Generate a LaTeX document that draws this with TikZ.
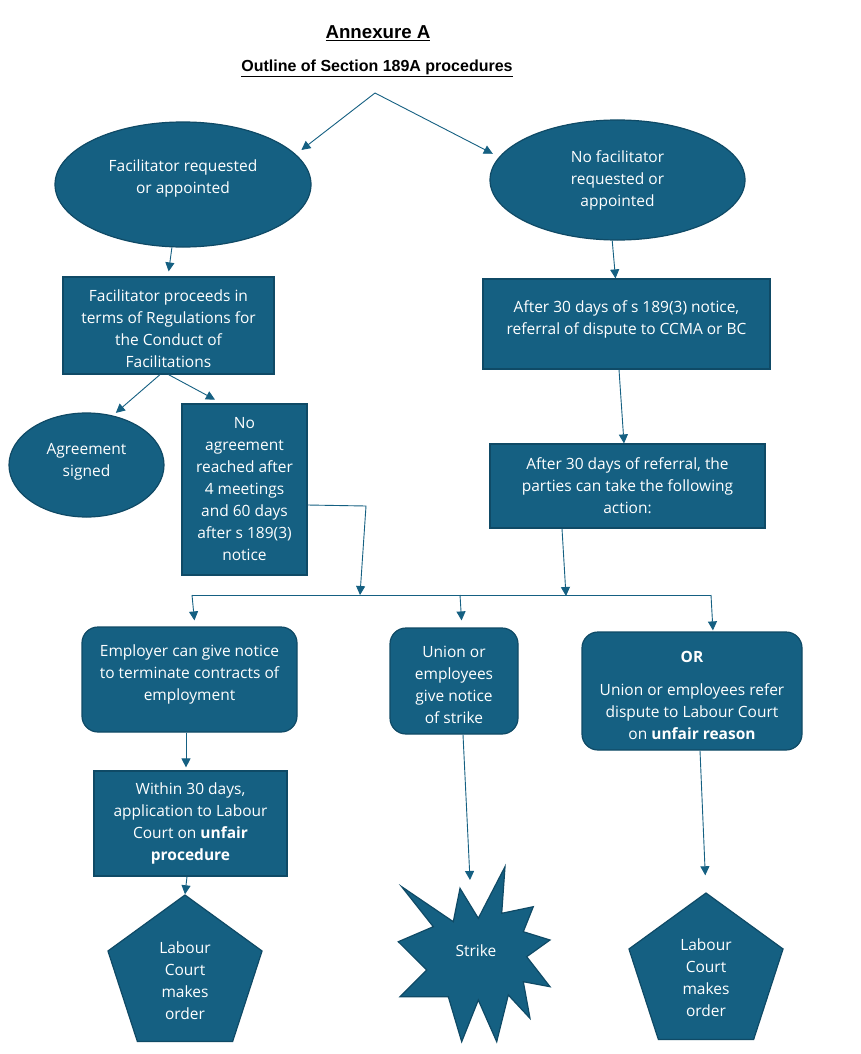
\documentclass[tikz,border=0pt]{standalone}
\usepackage{fontspec}
\setmainfont{Open Sans}
\newfontfamily\titlefont{Liberation Sans}
\usetikzlibrary{arrows.meta}
\usetikzlibrary{shapes.geometric}
\definecolor{teal1}{HTML}{156082}
\definecolor{tealedge}{HTML}{0F4A66}
\newcommand{\boxfont}{\fontsize{15.5}{22}\selectfont}
\newcommand{\toppad}[1]{\rule{0pt}{#1}}
\tikzset{
 boxbase/.style={fill=teal1, draw=tealedge, line width=1.2pt, text=white, align=center, inner sep=0pt, font=\boxfont},
 blob/.style={boxbase, ellipse},
 sqbox/.style={boxbase, rectangle},
 rbox/.style={boxbase, rectangle, rounded corners=16pt},
 penta/.style={boxbase, regular polygon, regular polygon sides=5, minimum size=162pt},
 arr/.style={draw=teal1, line width=0.9pt, -{Triangle[width=9pt,length=9pt]}},
}
\begin{document}
\begin{tikzpicture}[x=1pt, y=-1pt]
\useasboundingbox[fill=white] (0,0) rectangle (861,1054);
% title
\node (title) at (378,33) {\titlefont\bfseries\fontsize{18.7}{22}\selectfont\underline{Annexure A}};
\node (subtitle) at (377,68) {\titlefont\bfseries\fontsize{16}{20}\selectfont\underline{Outline of Section 189A procedures}};
\coordinate (top) at (375,93);
% first row
\node[blob, minimum width=256pt, minimum height=125pt] (facil) at (183,184.5) {Facilitator requested\\or appointed\\[-6pt]\mbox{}};
\node[blob, minimum width=255pt, minimum height=120pt] (nofacil) at (617.5,180) {No facilitator\\requested or\\appointed};
\draw[arr, shorten >=7pt] (top) -- (facil.15);
\draw[arr, shorten >=7pt] (top) -- (nofacil.169);
% left branch
\node[sqbox, minimum width=211pt, minimum height=97pt] (proceeds) at (168.5,325.5) {\toppad{18pt}Facilitator proceeds in\\terms of Regulations for\\the Conduct of\\Facilitations};
\draw[arr, shorten >=5pt] (facil.260) -- ([xshift=-0.5pt]proceeds.north);
\node[blob, minimum width=155pt, minimum height=104pt] (signed) at (86.5,465) {Agreement\\signed\\[-12pt]\mbox{}};
\node[sqbox, minimum width=125pt, minimum height=171pt] (noagree) at (244.5,489.5) {No\\agreement\\reached after\\4 meetings\\and 60 days\\after s 189(3)\\notice};
\draw[arr, shorten >=4pt] ([xshift=-8.5pt]proceeds.south) -- (signed.62);
\draw[arr, shorten >=8pt] (proceeds.south) -- ([xshift=-22.5pt]noagree.north);
% right branch
\node[sqbox, minimum width=287pt, minimum height=90pt] (refer30) at (626.5,324) {After 30 days of s 189(3) notice,\\referral of dispute to CCMA or BC\\[-10pt]\mbox{}};
\draw[arr] (nofacil.265) -- ([xshift=-11pt]refer30.north);
\node[sqbox, minimum width=275pt, minimum height=84pt] (after30) at (627.5,486) {After 30 days of referral, the\\parties can take the following\\action:};
\draw[arr] ([xshift=-7.5pt]refer30.south) -- ([xshift=-3.5pt]after30.north);
% joining line
\coordinate (busL) at (192,595);
\coordinate (busR) at (711,595);
\coordinate (bendL) at (366,506);
\coordinate (jL) at (360,595);
\coordinate (jR) at (566,596);
\draw[teal1, line width=0.9pt] (busL) -- (busR);
\draw[arr] ([yshift=-15.5pt]noagree.east) -- (bendL) -- (jL);
\draw[arr] ([xshift=-65.5pt]after30.south) -- (jR);
% options
\node[rbox, minimum width=215pt, minimum height=105pt] (employer) at (189.5,679.5) {Employer can give notice\\to terminate contracts of\\employment\\[-9pt]\mbox{}};
\node[rbox, minimum width=128pt, minimum height=106pt] (union) at (454,681) {\toppad{20pt}Union or\\employees\\give notice\\of strike};
\node[rbox, minimum width=220pt, minimum height=118pt] (orbox) at (692,691) {\toppad{21pt}\textbf{OR}\\[11pt]Union or employees refer\\dispute to Labour Court\\on \textbf{unfair reason}};
\draw[arr, shorten >=6pt] (busL) -- ([xshift=5.5pt]employer.north);
\draw[arr, shorten >=7pt] (460,595) -- ([xshift=8pt]union.north);
\draw[arr, shorten >=1pt] (busR) -- ([xshift=21pt]orbox.north);
% outcomes
\node[sqbox, minimum width=193pt, minimum height=105pt] (within) at (190.5,823.5) {Within 30 days,\\application to Labour\\Court on \textbf{unfair}\\\textbf{procedure}};
\draw[arr, shorten >=3pt] ([xshift=-3.5pt]employer.south) -- ([xshift=-4.5pt]within.north);
\node[penta] (lcleft) at (185,976) {\toppad{22pt}Labour\\Court\\makes\\order};
\draw[arr] ([xshift=-3.5pt]within.south) -- (lcleft.corner 1);
\draw[fill=teal1, draw=tealedge, line width=1.2pt] (401.7,886.7) -- (453.3,921.7) -- (460,888.3) -- (478.3,918.3) -- (505,866.7) -- (501.7,913.3) -- (533.3,906.7) -- (523.3,931.7) -- (550,940) -- (526.7,956.7) -- (550,986.7) -- (523.3,981.7) -- (530,1018.3) -- (508.3,995) -- (496.7,1041.7) -- (478.3,1000) -- (461.7,1041.7) -- (448.3,996.7) -- (400,996.7) -- (426.7,970) -- (398.3,941.7) -- (433.3,926.7) -- cycle;
\node[text=white, font=\boxfont] (strike) at (476,951) {Strike};
\coordinate (strikeIn) at (470,880);
\draw[arr] ([xshift=9pt]union.south) -- (strikeIn);
\node[penta] (lcright) at (706,974) {\toppad{19.5pt}Labour\\Court\\makes\\order};
\draw[arr, shorten >=17pt] ([xshift=8pt]orbox.south) -- (lcright.corner 1);
\end{tikzpicture}
\end{document}
